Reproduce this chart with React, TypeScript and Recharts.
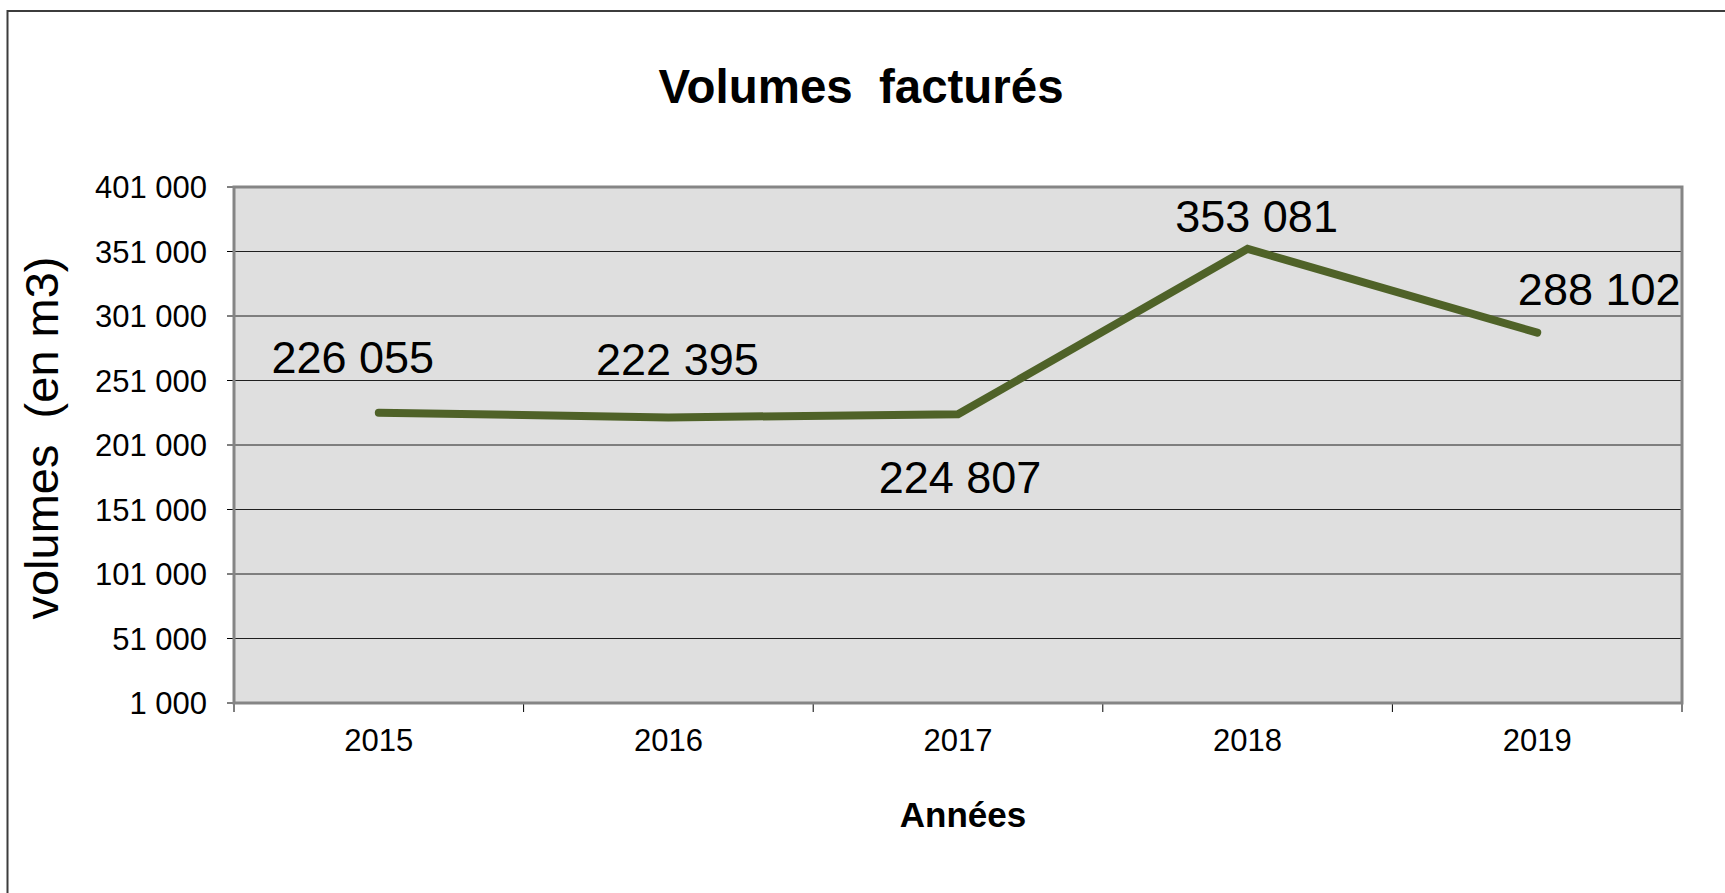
import { LineChart, Line, XAxis, YAxis, CartesianGrid, LabelList } from "recharts"

// values
const years = ["2015", "2016", "2017", "2018", "2019"]
const volumes = [226055, 222395, 224807, 353081, 288102]
const yTicks = [1000, 51000, 101000, 151000, 201000, 251000, 301000, 351000, 401000]

const chartTitle = "Volumes  facturés"
const xTitle = "Années"
const yTitle = "volumes  (en m3)"

const data = years.map((year, i) => ({ year, volume: volumes[i] }))

const W = 1725
const H = 893
const PLOT = { left: 234, top: 187, right: 1682, bottom: 703 }
const BAND = (PLOT.right - PLOT.left) / years.length
const Y_AXIS_W = 80
const X_AXIS_H = 60
const FONT = "'Liberation Sans', Arial, sans-serif"

// label nudges (dx, dy from the point), as Excel placed them
const labelNudge = [
  [-26, -56],
  [9, -58],
  [2, 63],
  [9, -33],
  [62, -44],
]

const fmt = (v: number) => String(v).replace(/\B(?=(\d{3})+(?!\d))/g, " ")

function YearTick({ x, payload, index }: any) {
  const half = BAND / 2
  const y = PLOT.bottom
  const last = index === years.length - 1
  return (
    <g>
      <line x1={x - half} x2={x - half} y1={y} y2={y + 9} stroke="#000" />
      {last && <line x1={x + half} x2={x + half} y1={y} y2={y + 9} stroke="#000" />}
      <text x={x} y={y + 48} textAnchor="middle" fontSize={31} fill="#000" fontFamily={FONT}>
        {payload.value}
      </text>
    </g>
  )
}

function ValueLabel({ x, y, value, index }: any) {
  const [dx, dy] = labelNudge[index] || [0, -40]
  return (
    <text
      x={x + dx}
      y={y + dy + 16}
      textAnchor="middle"
      fontSize={45}
      fill="#000"
      fontFamily={FONT}
    >
      {fmt(value)}
    </text>
  )
}

export default function App() {
  return (
    <div
      style={{
        position: "absolute",
        left: 0,
        top: 0,
        width: W,
        height: H,
        overflow: "hidden",
        background: "#fff",
        fontFamily: FONT,
      }}
    >
      <div style={{ position: "absolute", left: 0, top: 0 }}>
        <LineChart
          width={W}
          height={H}
          data={data}
          margin={{
            top: PLOT.top,
            right: W - PLOT.right,
            bottom: H - PLOT.bottom - X_AXIS_H,
            left: PLOT.left - Y_AXIS_W,
          }}
        >
          <CartesianGrid vertical={false} stroke="#1f1f1f" fill="#dfdfdf" />
          <XAxis
            dataKey="year"
            height={X_AXIS_H}
            interval={0}
            padding={{ left: BAND / 2, right: BAND / 2 }}
            axisLine={false}
            tickLine={false}
            tick={<YearTick />}
          />
          <YAxis
            width={Y_AXIS_W}
            domain={[1000, 401000]}
            ticks={yTicks}
            interval={0}
            axisLine={false}
            tickSize={7}
            tickMargin={20}
            tickLine={{ stroke: "#000" }}
            tickFormatter={fmt}
            tick={{ fontSize: 31, fill: "#000", fontFamily: FONT }}
          />
          <Line
            type="linear"
            dataKey="volume"
            stroke="#4f6228"
            strokeWidth={8}
            strokeLinecap="round"
            dot={false}
            activeDot={false}
            isAnimationActive={false}
          >
            <LabelList dataKey="volume" content={<ValueLabel />} />
          </Line>
        </LineChart>
      </div>
      <svg
        width={W}
        height={H}
        style={{ position: "absolute", left: 0, top: 0, pointerEvents: "none" }}
      >
        <path d={`M7.5 ${H} V11 H${W}`} fill="none" stroke="#3c3c3c" strokeWidth={2} />
        <rect
          x={PLOT.left}
          y={PLOT.top}
          width={PLOT.right - PLOT.left}
          height={PLOT.bottom - PLOT.top}
          fill="none"
          stroke="#858585"
          strokeWidth={3}
        />
        <text
          x={861}
          y={103}
          textAnchor="middle"
          fontSize={48}
          fontWeight="bold"
          fill="#000"
          textLength={405}
          lengthAdjust="spacingAndGlyphs"
          style={{ whiteSpace: "pre" }}
        >
          {chartTitle}
        </text>
        <text
          x={58}
          y={438}
          transform="rotate(-90 58 438)"
          textAnchor="middle"
          fontSize={47}
          fill="#000"
          style={{ whiteSpace: "pre" }}
        >
          {yTitle}
        </text>
        <text x={963} y={827} textAnchor="middle" fontSize={35} fontWeight="bold" fill="#000">
          {xTitle}
        </text>
      </svg>
    </div>
  )
}
